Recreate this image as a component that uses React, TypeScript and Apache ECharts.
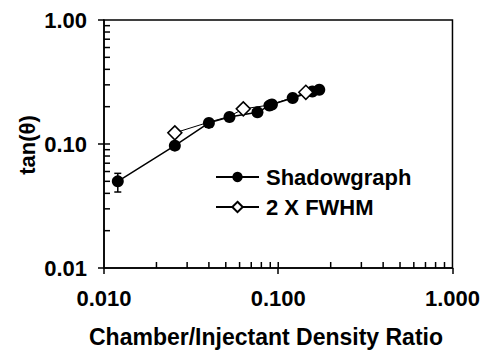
import React, { useEffect, useRef } from "react";
import * as echarts from "echarts";

const shadowX = [0.012, 0.0255, 0.040, 0.0525, 0.076, 0.089, 0.092, 0.121, 0.157, 0.172];
const shadowY = [0.050, 0.097, 0.148, 0.165, 0.180, 0.204, 0.208, 0.235, 0.265, 0.274];
const fwhmX = [0.0255, 0.040, 0.0525, 0.063, 0.089, 0.121, 0.144];
const fwhmY = [0.123, 0.150, 0.167, 0.192, 0.206, 0.237, 0.261];
const fwhmMarked = [true, false, false, true, false, false, true];
const errX = [0.012];
const errLow = [0.041];
const errHigh = [0.058];
const xInnerTicks = [0.02, 0.03, 0.04, 0.05, 0.06, 0.07, 0.08, 0.09, 0.1, 0.2, 0.3, 0.4, 0.5, 0.6, 0.7, 0.8, 0.9];
const yInnerTicks = [0.02, 0.03, 0.04, 0.05, 0.06, 0.07, 0.08, 0.09, 0.1, 0.2, 0.3, 0.4, 0.5, 0.6, 0.7, 0.8, 0.9];
const xTitle = "Chamber/Injectant Density Ratio";
const yTitle = "tan(θ)";
const legendNames = ["Shadowgraph", "2 X FWHM"];

const FONT = '"Liberation Sans", Arial, Helvetica, sans-serif';

export default function App() {
  const ref = useRef<HTMLDivElement>(null);
  useEffect(() => {
    if (!ref.current) return;
    const chart = echarts.init(ref.current, null, { renderer: "svg" });
    const tickLen = 6;
    const option: any = {
      animation: false,
      backgroundColor: "#fff",
      grid: {
        left: 104,
        right: 30,
        top: 20,
        bottom: 90,
        show: true,
        borderColor: "#000",
        borderWidth: 1.5,
        backgroundColor: "transparent",
      },
      xAxis: {
        type: "log",
        logBase: 10,
        min: 0.01,
        max: 1,
        axisLine: { show: true, lineStyle: { color: "#000", width: 1.5 } },
        axisTick: { show: true, inside: false, length: 6, lineStyle: { color: "#000", width: 1.5 } },
        minorTick: { show: false },
        splitLine: { show: false },
        axisLabel: {
          margin: 19,
          color: "#000",
          fontFamily: FONT,
          fontWeight: "bold",
          fontSize: 22,
          formatter: (v: number) => v.toFixed(3),
        },
      },
      yAxis: {
        type: "log",
        logBase: 10,
        min: 0.01,
        max: 1,
        axisLine: { show: true, lineStyle: { color: "#000", width: 1.5 } },
        axisTick: { show: true, inside: false, length: 6, lineStyle: { color: "#000", width: 1.5 } },
        minorTick: { show: false },
        splitLine: { show: false },
        axisLabel: {
          margin: 17,
          color: "#000",
          fontFamily: FONT,
          fontWeight: "bold",
          fontSize: 22,
          formatter: (v: number) => v.toFixed(2),
        },
      },
      legend: {
        orient: "vertical",
        left: 210,
        top: 161,
        itemWidth: 43,
        itemHeight: 13,
        itemGap: 8,
        data: legendNames,
        textStyle: { color: "#000", fontFamily: FONT, fontWeight: "bold", fontSize: 22, padding: [0, 0, 0, 2] },
      },
      graphic: [
        {
          type: "text",
          x: 266,
          y: 337,
          style: {
            text: xTitle,
            fill: "#000",
            font: `bold 23px ${FONT}`,
            textAlign: "center",
            textVerticalAlign: "middle",
          },
        },
        {
          type: "text",
          x: 27,
          y: 145,
          rotation: Math.PI / 2,
          style: {
            text: yTitle,
            fill: "#000",
            font: `bold 22px ${FONT}`,
            textAlign: "center",
            textVerticalAlign: "middle",
          },
        },
      ],
      series: [
        {
          type: "custom",
          silent: true,
          clip: false,
          data: xInnerTicks.map((v) => [v, 0.01]),
          encode: { x: 0, y: 1 },
          renderItem: (_p: any, api: any) => {
            const pt = api.coord([api.value(0), api.value(1)]);
            return {
              type: "line",
              shape: { x1: pt[0], y1: pt[1], x2: pt[0], y2: pt[1] - tickLen },
              style: { stroke: "#000", lineWidth: 1.5 },
            };
          },
          z: 1,
        },
        {
          type: "custom",
          silent: true,
          clip: false,
          data: yInnerTicks.map((v) => [0.01, v]),
          encode: { x: 0, y: 1 },
          renderItem: (_p: any, api: any) => {
            const pt = api.coord([api.value(0), api.value(1)]);
            return {
              type: "line",
              shape: { x1: pt[0], y1: pt[1], x2: pt[0] + tickLen, y2: pt[1] },
              style: { stroke: "#000", lineWidth: 1.5 },
            };
          },
          z: 1,
        },
        {
          type: "custom",
          silent: true,
          data: errX.map((x, i) => [x, errLow[i], errHigh[i]]),
          encode: { x: 0, y: [1, 2] },
          renderItem: (_p: any, api: any) => {
            const lo = api.coord([api.value(0), api.value(1)]);
            const hi = api.coord([api.value(0), api.value(2)]);
            const w = 3.5;
            return {
              type: "group",
              children: [
                { type: "line", shape: { x1: lo[0], y1: lo[1], x2: hi[0], y2: hi[1] }, style: { stroke: "#000", lineWidth: 1.5 } },
                { type: "line", shape: { x1: lo[0] - w, y1: lo[1], x2: lo[0] + w, y2: lo[1] }, style: { stroke: "#000", lineWidth: 1.5 } },
                { type: "line", shape: { x1: hi[0] - w, y1: hi[1], x2: hi[0] + w, y2: hi[1] }, style: { stroke: "#000", lineWidth: 1.5 } },
              ],
            };
          },
          z: 2,
        },
        {
          name: legendNames[0],
          type: "line",
          data: shadowX.map((x, i) => [x, shadowY[i]]),
          symbol: "circle",
          symbolSize: 12,
          lineStyle: { color: "#000", width: 1.5 },
          itemStyle: { color: "#000", borderColor: "#000", borderWidth: 0 },
          z: 3,
        },
        {
          name: legendNames[1],
          type: "line",
          data: fwhmX.map((x, i) => ({
            value: [x, fwhmY[i]],
            symbol: fwhmMarked[i] ? "diamond" : "none",
          })),
          symbol: "diamond",
          symbolSize: 14,
          lineStyle: { color: "#000", width: 1 },
          itemStyle: { color: "#fff", borderColor: "#000", borderWidth: 1.5 },
          z: 4,
        },
      ],
    };
    chart.setOption(option);
    return () => chart.dispose();
  }, []);
  return (
    <div
      ref={ref}
      style={{ position: "fixed", left: 0, top: 0, width: 483, height: 358, background: "#fff" }}
    />
  );
}
